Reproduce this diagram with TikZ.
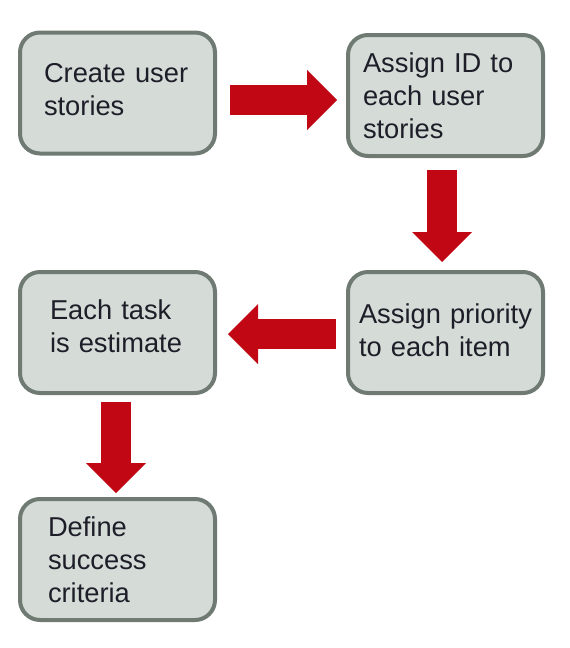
\documentclass[tikz,border=0pt]{standalone}
\usepackage{fontspec}
\setmainfont{Liberation Sans}
\usepackage{xcolor}
\definecolor{BoxFill}{HTML}{D5DCD8}
\definecolor{BoxLine}{HTML}{6E7A72}
\definecolor{Ink}{HTML}{1E1E28}
\definecolor{ArrowRed}{HTML}{C00713}
\usetikzlibrary{arrows.meta,positioning,calc}
\tikzset{
  story/.style={draw=BoxLine,fill=BoxFill,line width=4pt,rounded corners=20pt,
    minimum width=195pt,minimum height=121pt,align=left,text=Ink,
    font=\fontsize{27.3}{33}\selectfont,inner ysep=0pt},
  indent/.style={inner xsep=#1,text width={195pt-2*#1}},
  block/.style={draw=ArrowRed,line width=30pt,
    -{Triangle[width=60pt,length=30pt,line width=0pt]}}
}

\begin{document}
\begin{tikzpicture}[x=1pt,y=-1pt]
\useasboundingbox (0,0) rectangle (570,648);
\node[story,indent=24pt,text depth=40pt] (b1) at (117.5,93) {Create user\\stories};
\node[story,indent=15pt,right=129pt of b1,yshift=-2.5pt] (b2) {Assign ID to\\each user\\stories};
\node[story,indent=11pt,text depth=37pt,below=112pt of b2] (b3) {Assign priority\\to each item};
\node[story,indent=30pt,text depth=45pt,left=129pt of b3] (b4) {Each task\\is estimate};
\node[story,indent=28pt,below=102pt of b4] (b5) {Define\\success\\criteria};
\draw[block] ($(b1.east)+(13,7)$) -- ($(b2.west |- b1.east)+(-9,7)$);
\draw[block] ($(b2.south)+(-3.5,12)$) -- ($(b3.north)+(-3.5,-8)$);
\draw[block] ($(b3.west)+(-10,1.5)$) -- ($(b4.east)+(11,1.5)$);
\draw[block] ($(b4.south)+(-1.5,7)$) -- ($(b5.north)+(-1.5,-4)$);
\end{tikzpicture}
\end{document}
